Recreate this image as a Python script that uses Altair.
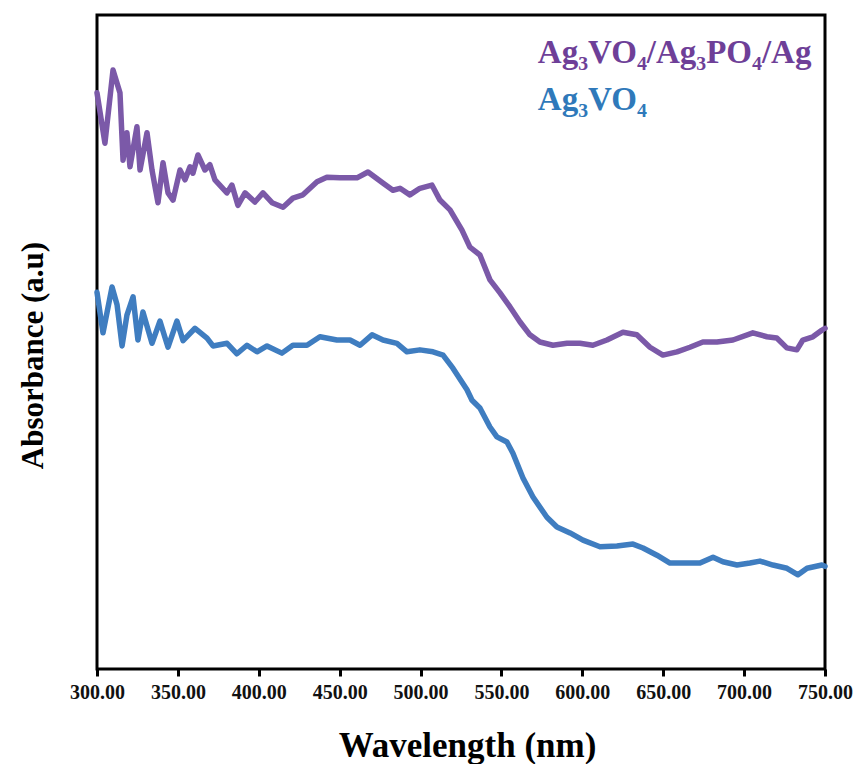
import altair as alt
import pandas as pd

# UV-Vis absorbance spectra (arbitrary units)
wl_composite = [300.0, 304.9, 309.9, 314.2, 316.1, 318.5, 320.4, 324.7, 326.6, 330.9,
                334.0, 337.7, 340.8, 343.9, 347.0, 351.3, 354.4, 357.5, 359.3, 362.4,
                366.7, 369.8, 372.9, 380.3, 383.4, 387.1, 391.5, 397.6, 402.6, 408.2,
                415.0, 421.1, 427.3, 436.0, 442.1, 450.2, 460.7, 467.5, 476.7, 482.9,
                487.3, 493.4, 499.6, 507.0, 512.0, 518.2, 525.6, 530.5, 536.7, 542.9,
                549.1, 555.2, 561.4, 567.6, 573.8, 581.8, 590.5, 598.5, 606.5, 615.2,
                625.1, 633.7, 641.8, 649.8, 658.5, 666.5, 674.5, 683.2, 693.1, 705.4,
                714.1, 720.2, 726.4, 732.6, 736.3, 742.5, 748.0, 750.0]
abs_composite = [0.881, 0.804, 0.916, 0.881, 0.778, 0.820, 0.768, 0.829, 0.763, 0.820,
                 0.763, 0.713, 0.774, 0.728, 0.717, 0.763, 0.748, 0.768, 0.758, 0.786,
                 0.763, 0.771, 0.748, 0.728, 0.740, 0.709, 0.728, 0.714, 0.728, 0.713,
                 0.706, 0.720, 0.725, 0.745, 0.752, 0.751, 0.751, 0.760, 0.743, 0.732,
                 0.735, 0.725, 0.735, 0.740, 0.717, 0.702, 0.671, 0.645, 0.633, 0.595,
                 0.575, 0.554, 0.531, 0.511, 0.500, 0.495, 0.498, 0.498, 0.495, 0.503,
                 0.515, 0.511, 0.492, 0.480, 0.485, 0.492, 0.500, 0.500, 0.503, 0.514,
                 0.508, 0.506, 0.491, 0.488, 0.503, 0.508, 0.518, 0.521]

wl_pure = [300.0, 303.7, 309.3, 312.4, 315.5, 318.5, 322.3, 325.3, 328.4, 334.0,
           338.9, 343.9, 349.4, 353.2, 360.6, 368.0, 371.7, 380.4, 386.5, 392.7,
           398.9, 405.1, 414.3, 421.1, 429.8, 437.8, 448.3, 456.4, 462.6, 470.0,
           476.8, 485.4, 491.6, 499.6, 507.7, 513.9, 520.0, 528.7, 531.8, 536.7,
           542.9, 547.2, 553.4, 557.1, 563.3, 569.5, 578.1, 584.3, 592.4, 600.4,
           610.9, 621.4, 631.3, 637.5, 646.1, 654.2, 662.2, 672.7, 680.8, 686.9,
           695.6, 703.6, 709.8, 717.8, 726.5, 733.3, 738.9, 748.1, 750.0]
abs_pure = [0.576, 0.514, 0.584, 0.557, 0.494, 0.541, 0.569, 0.503, 0.546, 0.498,
            0.532, 0.492, 0.532, 0.502, 0.521, 0.506, 0.494, 0.498, 0.482, 0.495,
            0.485, 0.494, 0.483, 0.495, 0.495, 0.508, 0.503, 0.503, 0.495, 0.511,
            0.503, 0.498, 0.485, 0.488, 0.485, 0.480, 0.460, 0.427, 0.411, 0.399,
            0.370, 0.355, 0.347, 0.330, 0.292, 0.263, 0.232, 0.217, 0.208, 0.197,
            0.187, 0.188, 0.191, 0.185, 0.174, 0.162, 0.162, 0.162, 0.171, 0.164,
            0.159, 0.162, 0.165, 0.159, 0.154, 0.144, 0.154, 0.159, 0.157]

series_names = ["Ag\u2083VO\u2084/Ag\u2083PO\u2084/Ag", "Ag\u2083VO\u2084"]
line_colors = ["#7b59a8", "#3f7dc0"]
label_colors = ["#6e3f98", "#2f79ba"]
label_wl = [572.5, 572.5]
label_abs = [0.927, 0.855]
x_ticks = [300, 350, 400, 450, 500, 550, 600, 650, 700, 750]

serif = "Liberation Serif"

df = pd.concat([
    pd.DataFrame({"wl": wl_composite, "abs": abs_composite, "sample": series_names[0], "order": range(len(wl_composite))}),
    pd.DataFrame({"wl": wl_pure, "abs": abs_pure, "sample": series_names[1], "order": range(len(wl_pure))}),
])
labels = pd.DataFrame({"wl": label_wl, "abs": label_abs, "sample": series_names})

x_scale = alt.Scale(domain=[300, 750], nice=False, zero=False)
y_scale = alt.Scale(domain=[0, 1], nice=False, zero=False)
color_scale = alt.Scale(domain=series_names, range=line_colors)

lines = alt.Chart(df).mark_line(strokeWidth=5.5, strokeJoin="round", strokeCap="round").encode(
    x=alt.X("wl:Q", scale=x_scale,
            axis=alt.Axis(title="Wavelength (nm)", values=x_ticks, format=".2f",
                          grid=False, domain=False, ticks=True, tickSize=7, tickWidth=3,
                          tickColor="black", labelFont=serif, labelFontWeight="bold",
                          labelFontSize=20, labelColor="#111111", labelPadding=6,
                          labelFlush=False, labelOverlap=False,
                          titleFont=serif, titleFontWeight="bold", titleFontSize=35,
                          titleColor="black", titleBaseline="alphabetic", titleY=87,
                          titleX=370)),
    y=alt.Y("abs:Q", scale=y_scale,
            axis=alt.Axis(title="Absorbance (a.u)", labels=False, ticks=False, grid=False,
                          domain=False, titleFont=serif, titleFontWeight="bold",
                          titleFontSize=31, titleColor="black", titlePadding=48,
                          titleY=340)),
    color=alt.Color("sample:N", scale=color_scale, legend=None),
    detail="sample:N",
    order="order:Q",
)

legend_text = alt.Chart(labels).mark_text(
    font=serif, fontSize=33, fontWeight="bold", align="left", baseline="alphabetic"
).encode(
    x=alt.X("wl:Q", scale=x_scale),
    y=alt.Y("abs:Q", scale=y_scale),
    text="sample:N",
    color=alt.Color("sample:N", scale=alt.Scale(domain=series_names, range=label_colors), legend=None),
)

chart = alt.layer(lines, legend_text).resolve_scale(color="independent").properties(
    width=728, height=654,
    autosize=alt.AutoSizeParams(type="none"),
    padding={"left": 97, "top": 15, "right": 33, "bottom": 95},
    background="white",
).configure_view(stroke="black", strokeWidth=3)

chart.save("out.html", embed_options={"renderer": "svg", "actions": False})
